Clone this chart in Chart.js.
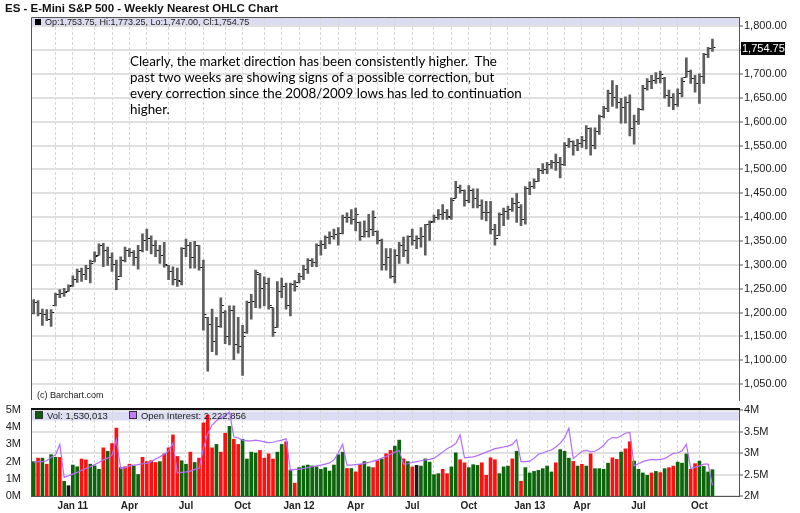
<!DOCTYPE html>
<html>
<head>
<meta charset="utf-8">
<script src="https://cdn.jsdelivr.net/npm/chart.js@4.4.1/dist/chart.umd.min.js"></script>
<style>
html,body{margin:0;padding:0;background:#fff;}
#wrap{position:relative;width:800px;height:513px;overflow:hidden;background:#fff;font-family:"Liberation Sans",Arial,sans-serif;}
canvas{position:absolute;left:0;}
#cPrice{top:0;}
#cVol{top:396px;}
.txt{position:absolute;white-space:nowrap;color:#222;}
#title{left:5px;top:1px;font-weight:bold;font-size:11.5px;line-height:14px;color:#111;}
#hdr{left:35px;top:17px;font-size:9px;line-height:11px;}
.sq{display:inline-block;width:6px;height:6px;background:#000;margin-right:4px;}
#note{left:130px;top:53px;font-family:Lato,sans-serif;font-size:13.4px;line-height:16px;color:#000;}
#copy{left:37px;top:390px;font-size:9px;line-height:11px;}
#vleg{left:35px;top:410px;font-size:9.5px;line-height:11px;}
#vleg .g{background:#0b5e0b;border:1px solid #333;width:6px;height:6px;}
#vleg .p{background:#c27cff;border:1px solid #333;width:6px;height:6px;}
#sep{position:absolute;left:31px;top:408px;width:709px;height:2px;background:#111;}
</style>
</head>
<body>
<div id="wrap">
<canvas id="cPrice" width="800" height="408"></canvas>
<canvas id="cVol" width="800" height="117"></canvas>
<div id="sep"></div>
<div class="txt" id="title">ES - E-Mini S&amp;P 500 - Weekly Nearest OHLC Chart</div>
<div class="txt" id="hdr"><span class="sq"></span>Op:1,753.75, Hi:1,773.25, Lo:1,747.00, Cl:1,754.75</div>
<div class="txt" id="note">Clearly, the market direction has been consistently higher.&nbsp; The<br>past two weeks are showing signs of a possible correction, but<br>every correction since the 2008/2009 lows has led to continuation<br>higher.</div>
<div class="txt" id="copy">(c) Barchart.com</div>
<div class="txt" id="vleg"><span class="sq g"></span>Vol: 1,530,013&nbsp;&nbsp;&nbsp;&nbsp;&nbsp;&nbsp;&nbsp;&nbsp;<span class="sq p"></span>Open Interest: 2,222,856</div>
</div>
<script>
// ---------- DATA ----------
const weeks = [
'2010-11-01','2010-11-08','2010-11-15','2010-11-22','2010-11-29','2010-12-06','2010-12-13','2010-12-20','2010-12-27',
'2011-01-03','2011-01-10','2011-01-17','2011-01-24','2011-01-31','2011-02-07','2011-02-14','2011-02-21','2011-02-28',
'2011-03-07','2011-03-14','2011-03-21','2011-03-28','2011-04-04','2011-04-11','2011-04-18','2011-04-25',
'2011-05-02','2011-05-09','2011-05-16','2011-05-23','2011-05-30','2011-06-06','2011-06-13','2011-06-20','2011-06-27',
'2011-07-04','2011-07-11','2011-07-18','2011-07-25','2011-08-01','2011-08-08','2011-08-15','2011-08-22','2011-08-29',
'2011-09-05','2011-09-12','2011-09-19','2011-09-26','2011-10-03','2011-10-10','2011-10-17','2011-10-24','2011-10-31',
'2011-11-07','2011-11-14','2011-11-21','2011-11-28','2011-12-05','2011-12-12','2011-12-19','2011-12-26',
'2012-01-02','2012-01-09','2012-01-16','2012-01-23','2012-01-30','2012-02-06','2012-02-13','2012-02-20','2012-02-27',
'2012-03-05','2012-03-12','2012-03-19','2012-03-26','2012-04-02','2012-04-09','2012-04-16','2012-04-23','2012-04-30',
'2012-05-07','2012-05-14','2012-05-21','2012-05-28','2012-06-04','2012-06-11','2012-06-18','2012-06-25',
'2012-07-02','2012-07-09','2012-07-16','2012-07-23','2012-07-30','2012-08-06','2012-08-13','2012-08-20','2012-08-27',
'2012-09-03','2012-09-10','2012-09-17','2012-09-24','2012-10-01','2012-10-08','2012-10-15','2012-10-22','2012-10-29',
'2012-11-05','2012-11-12','2012-11-19','2012-11-26','2012-12-03','2012-12-10','2012-12-17','2012-12-24','2012-12-31',
'2013-01-07','2013-01-14','2013-01-21','2013-01-28','2013-02-04','2013-02-11','2013-02-18','2013-02-25',
'2013-03-04','2013-03-11','2013-03-18','2013-03-25','2013-04-01','2013-04-08','2013-04-15','2013-04-22','2013-04-29',
'2013-05-06','2013-05-13','2013-05-20','2013-05-27','2013-06-03','2013-06-10','2013-06-17','2013-06-24',
'2013-07-01','2013-07-08','2013-07-15','2013-07-22','2013-07-29','2013-08-05','2013-08-12','2013-08-19','2013-08-26',
'2013-09-02','2013-09-09','2013-09-16','2013-09-23','2013-09-30','2013-10-07','2013-10-14','2013-10-21','2013-10-28'];

const opens = [
1199,1220,1197,1196,1186,1214,1238,1240,1245,1257,
1270,1287,1280,1293,1306,1320,1340,1330,1315,1300,
1275,1310,1330,1325,1316,1330,1350,1355,1340,1330,
1320,1299,1285,1270,1265,1335,1340,1315,1340,1295,
1190,1175,1140,1170,1200,1150,1205,1133,1128,1158,
1220,1223,1280,1250,1260,1210,1169,1245,1255,1215,
1258,1262,1275,1290,1310,1305,1340,1342,1358,1360,
1363,1366,1400,1400,1395,1388,1360,1370,1375,1370,
1350,1300,1315,1275,1320,1340,1330,1360,1350,1355,
1360,1385,1390,1400,1405,1410,1400,1440,1462,1455,
1435,1455,1440,1425,1410,1410,1375,1361,1405,1412,
1415,1428,1420,1395,1460,1465,1475,1498,1500,1510,
1515,1515,1510,1550,1558,1550,1555,1560,1585,1550,
1580,1610,1628,1660,1650,1640,1630,1640,1585,1600,
1625,1670,1685,1687,1690,1690,1655,1650,1635,1660,
1693,1705,1690,1680,1695,1740,1753.75];
const highs = [
1227,1225,1207,1206,1206,1241,1248,1251,1258,1277,
1291,1293,1299,1310,1327,1344,1345,1337,1325,1310,
1317,1337,1334,1330,1341,1365,1375,1361,1351,1341,
1347,1299,1296,1293,1336,1354,1347,1349,1341,1310,
1190,1207,1190,1231,1204,1214,1214,1190,1173,1224,
1238,1289,1282,1275,1272,1210,1265,1272,1262,1262,
1267,1282,1299,1313,1313,1344,1351,1361,1369,1375,
1378,1404,1409,1416,1419,1390,1392,1406,1413,1371,
1354,1334,1334,1332,1347,1358,1361,1375,1361,1378,
1385,1392,1404,1416,1426,1416,1440,1475,1467,1457,
1466,1459,1459,1436,1433,1433,1385,1409,1419,1423,
1440,1450,1426,1464,1474,1480,1502,1512,1515,1519,
1532,1525,1556,1565,1560,1563,1569,1592,1587,1587,
1614,1632,1666,1686,1676,1649,1652,1656,1614,1628,
1676,1690,1697,1703,1706,1693,1666,1659,1669,1692,
1734,1708,1697,1700,1743,1756,1773.25];
const lows = [
1197,1193,1173,1183,1171,1214,1231,1234,1245,1255,
1263,1265,1269,1262,1306,1320,1296,1299,1286,1248,
1275,1306,1317,1299,1291,1327,1330,1323,1317,1303,
1295,1269,1258,1255,1258,1317,1293,1293,1289,1163,
1077,1118,1111,1169,1135,1132,1101,1115,1068,1156,
1186,1210,1209,1214,1207,1150,1169,1231,1207,1193,
1245,1262,1269,1282,1296,1296,1320,1334,1344,1354,
1341,1365,1389,1385,1371,1351,1358,1358,1361,1344,
1289,1289,1272,1262,1303,1317,1303,1341,1334,1337,
1320,1351,1389,1395,1395,1395,1395,1440,1450,1423,
1430,1419,1419,1395,1392,1365,1341,1361,1382,1395,
1412,1389,1382,1385,1447,1460,1475,1491,1491,1502,
1498,1482,1508,1546,1530,1539,1546,1543,1530,1543,
1573,1608,1621,1632,1628,1597,1597,1570,1553,1594,
1624,1666,1669,1680,1681,1649,1632,1625,1632,1652,
1693,1680,1662,1638,1680,1734,1747];
const closes = [
1220,1197,1196,1186,1200,1238,1240,1243,1254,1270,
1287,1280,1293,1303,1318,1340,1330,1315,1300,1270,
1310,1330,1325,1316,1330,1350,1355,1340,1330,1320,
1300,1285,1270,1268,1335,1340,1315,1340,1295,1195,
1175,1140,1170,1215,1150,1205,1133,1128,1150,1220,
1223,1283,1250,1260,1215,1158,1245,1255,1215,1258,
1255,1275,1290,1310,1305,1340,1342,1358,1360,1363,
1366,1400,1400,1395,1405,1360,1370,1375,1400,1350,
1300,1315,1275,1320,1340,1330,1360,1350,1355,1360,
1385,1388,1400,1405,1410,1402,1435,1462,1455,1435,
1455,1440,1425,1410,1410,1375,1355,1405,1412,1415,
1428,1430,1395,1460,1465,1475,1498,1500,1510,1515,
1515,1510,1550,1558,1550,1555,1560,1585,1550,1580,
1610,1628,1660,1650,1640,1630,1640,1585,1600,1625,
1670,1685,1687,1690,1698,1655,1650,1635,1660,1685,
1705,1690,1680,1695,1740,1753,1754.75];

// weekly volume, millions of contracts
const volumeM = [
2.0,
2.2,2.2,1.85,2.4,2.25,2.25,0.85,0.6,1.8,1.7,
2.15,2.1,1.85,1.75,1.55,2.8,2.6,3.05,3.95,
1.65,1.7,1.85,1.75,1.25,2.25,2.0,2.05,1.95,2.0,2.45,2.8,
3.55,2.3,2.05,1.85,2.55,1.95,2.2,4.25,4.7,2.8,3.0,2.55,3.65,4.05,
3.3,3.0,3.3,2.15,2.55,2.5,2.65,2.2,2.45,2.15,2.55,
3.0,3.15,1.5,0.75,1.65,1.75,1.8,1.75,1.7,1.55,
1.65,1.45,1.8,2.4,2.55,1.6,1.6,1.4,1.85,2.0,
1.7,1.65,2.05,2.15,2.45,2.65,2.9,3.25,
2.16,2.0,1.69,1.78,1.74,2.16,1.97,1.24,1.30,1.55,
1.30,1.69,2.51,2.11,1.93,1.65,1.82,1.78,1.93,1.20,
2.22,2.11,1.30,1.69,1.74,2.16,2.60,0.86,1.65,1.34,
1.43,1.49,1.59,1.74,1.40,1.93,2.70,2.60,2.20,2.01,
1.74,1.84,1.74,2.45,1.59,1.59,1.55,1.91,2.22,2.13,
2.55,2.74,3.16,2.03,1.55,1.34,1.20,
1.34,1.43,1.36,1.59,1.65,1.74,1.97,1.91,2.45,1.55,1.88,2.03,1.72,1.40,1.53];
// bar colour code per week: r = down, g = up, k = unchanged
const volumeDir =
'g'+'rgrggrgkgg'+'rrgggrgrr'+'grrggrrrrgrr'+'rrggrgrrrrgrrg'+'rrggggrrrrg'+
'grgrgggggg'+'gggggrgrrg'+'grrgrrgg'+
'rgrkgggggr'+'rggrrgggrr'+'rrgggrgrgg'+'gggggrgggr'+'grgrggggrr'+'grrgggg'+
'rgrgrrgggrrgggg';
// open interest, millions of contracts
const openInterestM = [
2.79,2.80,2.80,2.82,2.90,2.95,3.20,
2.43,2.47,2.51,2.55,2.60,2.64,2.68,2.73,2.78,2.84,2.88,2.95,3.31,
2.64,2.66,2.70,2.72,2.73,2.75,2.76,2.80,2.86,2.91,2.97,3.05,3.23,
2.54,2.55,2.56,2.58,2.62,2.64,3.10,3.45,3.65,3.75,3.82,3.88,3.95,
3.37,3.35,3.30,3.28,3.28,3.30,3.28,3.26,3.24,3.25,3.28,3.30,3.33,
2.60,2.62,2.62,2.64,2.66,2.68,2.70,2.72,2.74,2.77,2.84,3.00,3.20,
2.72,2.72,2.73,2.74,2.76,2.78,2.81,2.84,2.88,2.92,2.97,3.02,3.06,
2.74,2.75,2.78,2.80,2.82,2.84,2.85,2.88,2.95,3.02,3.10,3.15,3.22,3.42,
2.89,2.90,2.91,2.94,2.98,3.02,3.06,3.10,3.12,3.14,3.16,3.20,3.31,
2.80,2.80,2.81,2.88,2.97,3.00,3.04,3.07,3.14,3.23,3.35,3.58,
2.87,2.95,3.04,3.06,3.03,3.04,3.10,3.18,3.30,3.36,3.35,3.40,3.46,3.48,
2.70,2.75,2.80,2.83,2.85,2.84,2.85,2.87,2.93,2.99,3.00,3.05,3.20,
2.64,2.67,2.70,2.74,2.74,2.25];

const priceTicks = [1050,1100,1150,1200,1250,1300,1350,1400,1450,1500,1550,1600,1650,1700,1750,1800];
const volTicks = [0,1,2,3,4,5];
const oiTicks = [2,2.5,3,3.5,4];
const quarterLabels = [['2011-01','Jan 11'],['2011-04','Apr'],['2011-07','Jul'],['2011-10','Oct'],
  ['2012-01','Jan 12'],['2012-04','Apr'],['2012-07','Jul'],['2012-10','Oct'],
  ['2013-01','Jan 13'],['2013-04','Apr'],['2013-07','Jul'],['2013-10','Oct']];

// ---------- helpers ----------
const fmt2 = v => v.toLocaleString('en-US',{minimumFractionDigits:2,maximumFractionDigits:2});
const idx = weeks.map((w,i)=>i);
const monthStarts = [];
const monthLabel = {};
const qMap = Object.fromEntries(quarterLabels);
weeks.forEach((w,i)=>{
  if(i>0 && w.slice(0,7)!==weeks[i-1].slice(0,7)){
    monthStarts.push(i);
    monthLabel[i] = qMap[w.slice(0,7)] || '';
  }
});
const X_MIN = -0.62, X_MAX = 162.1;
const FONT = '"Liberation Sans", Arial, sans-serif';

function tickImg(side){
  const c = document.createElement('canvas');
  c.width = 8; c.height = 1;
  const g = c.getContext('2d');
  g.fillStyle = '#111';
  if(side==='L') g.fillRect(1,0,3,1); else g.fillRect(4,0,3,1);
  return c;
}

const frameAndBand = {
  id:'frameAndBand',
  beforeDraw(chart, args, o){
    const {ctx, chartArea:a} = chart;
    ctx.save();
    ctx.fillStyle = o.bandColor;
    ctx.fillRect(a.left, a.top + o.bandTop, a.right - a.left, o.bandH);
    ctx.restore();
  },
  afterDraw(chart, args, o){
    const {ctx, chartArea:a} = chart;
    ctx.save();
    ctx.strokeStyle = '#555'; ctx.lineWidth = 1;
    ctx.beginPath();
    const l = Math.round(a.left)+0.5, t = Math.round(a.top)+0.5;
    ctx.moveTo(l, Math.round(a.bottom)); ctx.lineTo(l, t);
    if(o.topLine){ ctx.lineTo(Math.round(a.right), t); }
    ctx.stroke();
    if(o.lastLabel){
      const y = chart.scales.y.getPixelForValue(closes[closes.length-1]);
      ctx.fillStyle = '#000';
      ctx.fillRect(741, Math.round(y)-6, 44, 13);
      ctx.fillStyle = '#fff';
      ctx.font = '11px ' + FONT;
      ctx.textBaseline = 'middle';
      ctx.fillText(fmt2(closes[closes.length-1]), 742, Math.round(y)+0.5);
    }
    ctx.restore();
  }
};

const xAxis = (labels) => ({
  type:'linear', min:X_MIN, max:X_MAX, offset:false,
  afterBuildTicks: s => { s.ticks = monthStarts.map(v=>({value:v})); },
  afterFit: s => { s.height = labels ? 17 : 0; },
  grid:{color:'#d6d6d6', lineWidth:1, drawTicks:false, offset:false},
  border:{display:labels, color:'#555', dash:[3,2]},
  ticks:{display:labels, autoSkip:false, maxRotation:0, minRotation:0, padding:4,
         color:'#222', font:{family:FONT, size:10, weight:'bold'},
         callback: v => monthLabel[v] || ''}
});

// ---------- price chart ----------
new Chart(document.getElementById('cPrice'), {
  type:'bar',
  data:{
    datasets:[
      {type:'bar', data: idx.map(i=>({x:i, y:[lows[i], highs[i]]})),
       backgroundColor:'#5e5e5e', barThickness:2, borderWidth:0},
      {type:'scatter', data: idx.map(i=>({x:i, y:opens[i]})),
       pointStyle: tickImg('L'), pointRadius:3},
      {type:'scatter', data: idx.map(i=>({x:i, y:closes[i]})),
       pointStyle: tickImg('R'), pointRadius:3}
    ]
  },
  options:{
    responsive:false, animation:false, events:[],
    layout:{padding:{left:31, top:17, right:0, bottom:0}},
    plugins:{legend:{display:false}, tooltip:{enabled:false},
      frameAndBand:{bandColor:'#dcdcf0', bandTop:1, bandH:8.5, topLine:true, lastLabel:true}},
    scales:{
      x: xAxis(false),
      y:{type:'linear', position:'right', min:1015.9, max:1819.3,
         afterBuildTicks: s => { s.ticks = priceTicks.map(v=>({value:v})); },
         afterFit: s => { s.width = 61; },
         grid:{color:'#e0e0e0', lineWidth:2, drawTicks:true, tickLength:4, tickColor:'#555', tickWidth:1},
         border:{display:true, color:'#555', width:1},
         ticks:{padding:1, color:'#222', font:{family:FONT, size:11},
                callback: v => v===1750 ? '' : fmt2(v)}}
    }
  },
  plugins:[frameAndBand]
});

// ---------- volume / open interest chart ----------
const dirColor = {r:'#ff1010', g:'#0b650b', k:'#1a1a1a'};
new Chart(document.getElementById('cVol'), {
  type:'bar',
  data:{
    datasets:[
      {type:'line', data: idx.map(i=>({x:i, y:openInterestM[i]})), yAxisID:'yoi',
       borderColor:'#b46cff', borderWidth:1.2, pointRadius:0, tension:0, order:0},
      {type:'bar', data: idx.map(i=>({x:i, y:volumeM[i]})), yAxisID:'yv',
       backgroundColor: idx.map(i=>dirColor[volumeDir[i]]), barThickness:3, borderWidth:0, order:1}
    ]
  },
  options:{
    responsive:false, animation:false, events:[],
    layout:{padding:{left:0, top:14, right:0, bottom:0}},
    plugins:{legend:{display:false}, tooltip:{enabled:false},
      frameAndBand:{bandColor:'#dcdcf2', bandTop:1.5, bandH:9, topLine:false, lastLabel:false}},
    scales:{
      x: xAxis(true),
      yv:{type:'linear', position:'left', min:0, max:5,
          afterBuildTicks: s => { s.ticks = volTicks.map(v=>({value:v})); },
          afterFit: s => { s.width = 31; },
          grid:{display:false, drawOnChartArea:false},
          border:{display:true, color:'#555'},
          ticks:{padding:2, color:'#222', font:{family:FONT, size:11}, callback: v => v+'M'}},
      yoi:{type:'linear', position:'right', min:2, max:4,
          afterBuildTicks: s => { s.ticks = oiTicks.map(v=>({value:v})); },
          afterFit: s => { s.width = 61; },
          grid:{color:'#e0e0e0', lineWidth:2, drawTicks:true, tickLength:4, tickColor:'#555', tickWidth:1},
          border:{display:true, color:'#555', width:1},
          ticks:{padding:1, color:'#222', font:{family:FONT, size:11}, callback: v => v+'M'}}
    }
  },
  plugins:[frameAndBand]
});
</script>
</body>
</html>
